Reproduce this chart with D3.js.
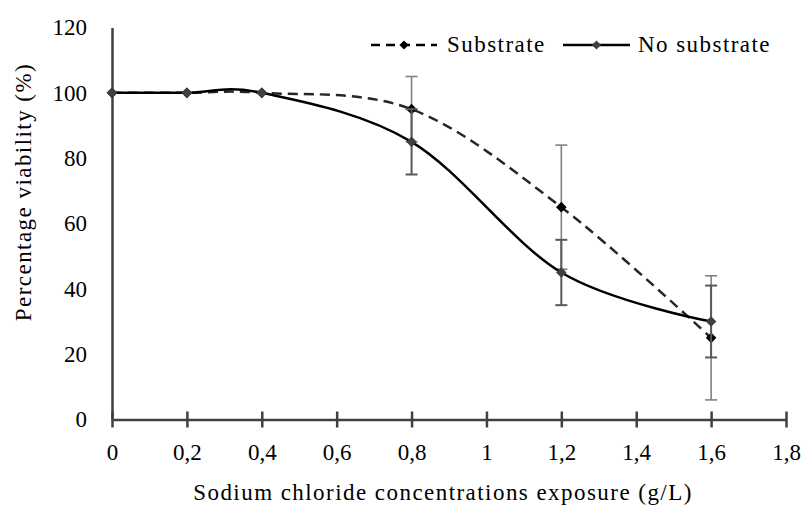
<!DOCTYPE html>
<html>
<head>
<meta charset="utf-8">
<script src="https://cdn.jsdelivr.net/npm/d3@7"></script>
<style>
  html, body { margin: 0; padding: 0; background: #fff; }
  text { font-family: "Liberation Serif", "Times New Roman", serif; }
</style>
</head>
<body>
<svg id="chart" width="805" height="506"></svg>
<script>
// ---- data ----
const concentrations = [0, 0.2, 0.4, 0.8, 1.2, 1.6];
const substrate      = [100, 100, 100, 95, 65, 25];
const substrateErr   = [0, 0, 0, 10, 19, 19];
const noSubstrate    = [100, 100, 100, 85, 45, 30];
const noSubstrateErr = [0, 0, 0, 10, 10, 11];
const xTicks = [0, 0.2, 0.4, 0.6, 0.8, 1, 1.2, 1.4, 1.6, 1.8];
const yTicks = [0, 20, 40, 60, 80, 100, 120];
const seriesNames = ["Substrate", "No substrate"];

const FS = 23, LS = 1.45;
const svg = d3.select("#chart");
const x = d3.scaleLinear().domain([0, 1.8]).range([112, 786]);
const y = d3.scaleLinear().domain([0, 120]).range([419.5, 27.5]);
const fmt = d => String(d).replace(".", ",");

// axes
const xAxis = svg.append("g").attr("transform", `translate(0,${y(0)})`)
  .call(d3.axisBottom(x).tickValues(xTicks).tickFormat(fmt).tickSize(0).tickPadding(24));
xAxis.select(".domain").attr("stroke", "#404040").attr("stroke-width", 2.5);
xAxis.selectAll(".tick").append("line")
  .attr("y1", -8).attr("y2", 8).attr("stroke", "#404040").attr("stroke-width", 2.5);
xAxis.selectAll("text").attr("font-size", FS).attr("fill", "#000")
  .attr("font-family", "Liberation Serif");

const yAxis = svg.append("g").attr("transform", `translate(${x(0)},0)`)
  .call(d3.axisLeft(y).tickValues(yTicks).tickSize(0).tickPadding(25));
yAxis.select(".domain").attr("stroke", "#404040").attr("stroke-width", 2.5);
yAxis.selectAll("text").attr("font-size", FS).attr("fill", "#000")
  .attr("font-family", "Liberation Serif");

// titles
svg.append("text").attr("x", 443).attr("y", 500).attr("text-anchor", "middle")
  .attr("font-size", FS).attr("letter-spacing", LS)
  .text("Sodium chloride concentrations exposure (g/L)");
svg.append("text").attr("transform", "translate(31,192) rotate(-90)")
  .attr("text-anchor", "middle").attr("font-size", FS).attr("letter-spacing", LS)
  .text("Percentage viability (%)");

const curve = d3.curveCardinal.tension(0);
const line = d3.line().x((d, i) => x(concentrations[i])).y(d => y(d)).curve(curve);

const diamond = (sel, cx, cy, s, fill) =>
  sel.append("rect").attr("x", -s / 2).attr("y", -s / 2).attr("width", s).attr("height", s)
    .attr("transform", `translate(${cx},${cy}) rotate(45)`).attr("fill", fill);

// error bars
function errBars(vals, errs, color, w) {
  const g = svg.append("g").attr("stroke", color).attr("stroke-width", w);
  vals.forEach((v, i) => {
    if (!errs[i]) return;
    const cx = x(concentrations[i]);
    g.append("line").attr("x1", cx).attr("x2", cx).attr("y1", y(v - errs[i])).attr("y2", y(v + errs[i]));
    [v - errs[i], v + errs[i]].forEach(e =>
      g.append("line").attr("x1", cx - 6).attr("x2", cx + 6).attr("y1", y(e)).attr("y2", y(e)));
  });
}

// substrate series
errBars(substrate, substrateErr, "#808080", 1.6);
svg.append("path").datum(substrate).attr("d", line).attr("fill", "none")
  .attr("stroke", "#262626").attr("stroke-width", 2.5).attr("stroke-dasharray", "10,6");
substrate.forEach((v, i) => diamond(svg, x(concentrations[i]), y(v), 7.5, "#000"));

// no substrate series
errBars(noSubstrate, noSubstrateErr, "#595959", 2);
svg.append("path").datum(noSubstrate).attr("d", line).attr("fill", "none")
  .attr("stroke", "#000").attr("stroke-width", 2.5);
noSubstrate.forEach((v, i) => diamond(svg, x(concentrations[i]), y(v), 7.5, "#404040"));

// legend
const lg = svg.append("g");
const ly = 45;
lg.append("line").attr("x1", 371).attr("x2", 437).attr("y1", ly).attr("y2", ly)
  .attr("stroke", "#000").attr("stroke-width", 2.5).attr("stroke-dasharray", "9,6");
diamond(lg, 404, ly, 6.5, "#000");
lg.append("text").attr("x", 447).attr("y", ly + 7).attr("font-size", FS)
  .attr("letter-spacing", LS).text(seriesNames[0]);
lg.append("line").attr("x1", 563).attr("x2", 630).attr("y1", ly).attr("y2", ly)
  .attr("stroke", "#000").attr("stroke-width", 2.5);
diamond(lg, 596.5, ly, 6.5, "#404040");
lg.append("text").attr("x", 638).attr("y", ly + 7).attr("font-size", FS)
  .attr("letter-spacing", LS).text(seriesNames[1]);
</script>
</body>
</html>
